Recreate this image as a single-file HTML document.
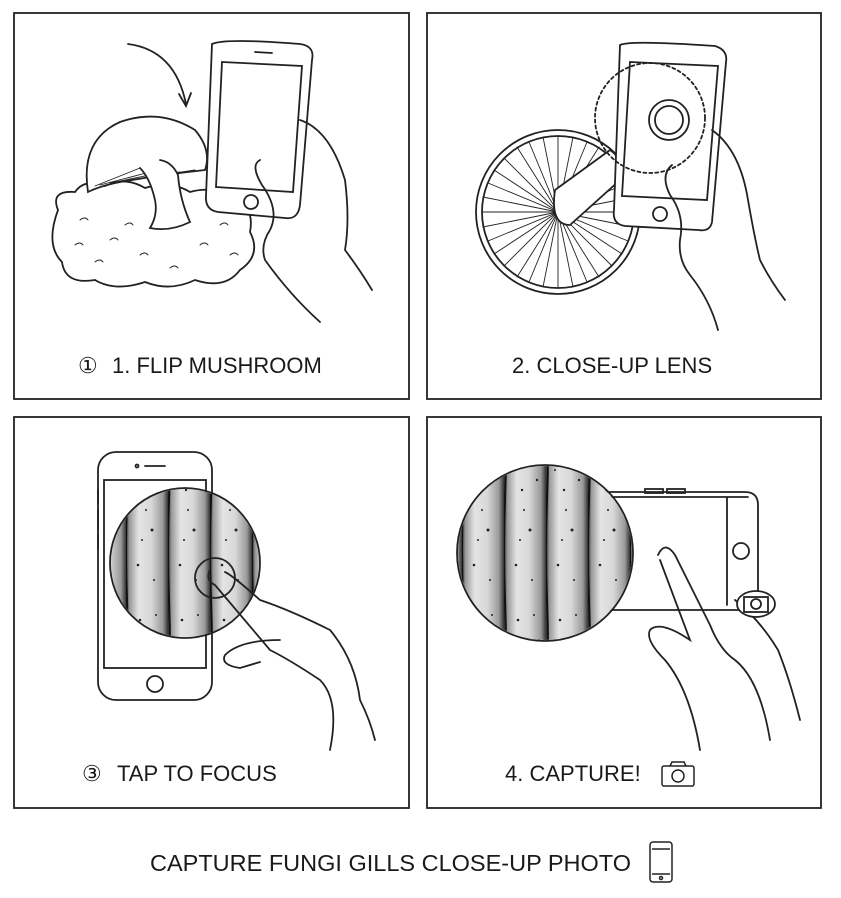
<!DOCTYPE html>
<html><head><meta charset="utf-8"><style>
html,body{margin:0;padding:0;background:#fff;}
svg{display:block}
text{font-family:"Liberation Sans",sans-serif;fill:#1a1a1a}
</style></head><body>
<svg width="841" height="898" viewBox="0 0 841 898" xmlns="http://www.w3.org/2000/svg">
<defs>
<linearGradient id="gill" x1="0" x2="1" y1="0" y2="0">
<stop offset="0" stop-color="#333"/><stop offset="0.08" stop-color="#999"/><stop offset="0.3" stop-color="#e4e4e4"/><stop offset="0.6" stop-color="#d8d8d8"/><stop offset="0.88" stop-color="#999"/><stop offset="1" stop-color="#333"/>
</linearGradient>
<pattern id="stripes" width="42" height="200" patternUnits="userSpaceOnUse">
<rect width="42" height="200" fill="url(#gill)"/>
<path d="M1 0 Q3 50 1 100 Q-1 150 1 200" stroke="#111" stroke-width="2" fill="none"/>
<g fill="#222"><circle cx="14" cy="20" r="1.3"/><circle cx="22" cy="55" r="1.5"/><circle cx="18" cy="90" r="1.2"/><circle cx="26" cy="130" r="1.5"/><circle cx="12" cy="165" r="1.3"/><circle cx="30" cy="15" r="1"/><circle cx="20" cy="110" r="1"/><circle cx="9" cy="70" r="1"/><circle cx="33" cy="80" r="1.2"/><circle cx="28" cy="180" r="1"/><circle cx="16" cy="140" r="1"/><circle cx="35" cy="40" r="1"/></g>
</pattern>
<clipPath id="c3"><circle cx="185" cy="563" r="74"/></clipPath>
<clipPath id="c4"><circle cx="545" cy="553" r="87"/></clipPath>
</defs>
<g fill="none" stroke="#222" stroke-width="1.8">
<rect x="14" y="13" width="395" height="386"/>
<rect x="427" y="13" width="394" height="386"/>
<rect x="14" y="417" width="395" height="391"/>
<rect x="427" y="417" width="394" height="391"/>
</g>

<!-- Panel 1 -->
<g fill="none" stroke="#222" stroke-width="1.8" stroke-linecap="round">
<path d="M128 44 Q175 50 186 104"/><path d="M179 94 L186 106 L191 93"/>
<path d="M58 210 Q50 190 75 192 Q85 178 105 186 Q125 176 145 188 Q170 180 190 192 Q215 185 232 200 Q255 205 250 232 Q262 255 240 270 Q225 290 195 280 Q170 292 145 282 Q115 292 95 280 Q65 285 62 262 Q45 245 58 210Z" fill="#fff"/>
<g stroke-width="1"><path d="M80 220q5-4 8 0M110 240q5-4 8 0M140 255q5-4 8 0M200 245q5-4 8 0M220 225q5-4 8 0M95 262q5-4 8 0M170 268q5-4 8 0M75 245q5-4 8 0M230 255q5-4 8 0M125 225q5-4 8 0"/></g>
<path d="M88 192 Q80 140 120 122 Q160 108 195 130 Q212 150 205 170 Q160 175 120 182 Q100 186 88 192Z" fill="#fff"/>
<g stroke-width="0.9"><path d="M95 186L140 168M100 185L150 172M110 183L165 172M120 182L180 172M130 180L195 170"/></g>
<path d="M140 168 Q150 178 155 200 Q158 215 150 228 Q170 232 190 222 Q180 200 178 175 Q172 162 160 160" fill="#fff"/>
<path d="M212 44 Q225 38 300 44 Q315 46 312 60 L300 205 Q298 220 285 218 L218 212 Q205 210 206 196 Z" fill="#fff"/>
<path d="M222 62 L302 66 L293 192 L216 187 Z"/>
<circle cx="251" cy="202" r="7"/><path d="M255 52 L272 53"/>
<path d="M260 160 Q250 165 262 185 Q280 210 270 230 Q260 245 265 260 Q290 295 320 322"/>
<path d="M300 120 Q330 130 345 180 Q350 220 345 250 Q360 270 372 290"/>
</g>
<text x="78" y="373" font-size="22">①</text><text x="112" y="373" font-size="22">1. FLIP MUSHROOM</text>

<!-- Panel 2 -->
<g fill="none" stroke="#222" stroke-width="1.8" stroke-linecap="round">
<circle cx="558" cy="212" r="82" fill="#fff"/>
<circle cx="558" cy="212" r="76"/>
<g stroke-width="0.9">
<path d="M558 136V288M482 212H634M504 158L612 266M504 266L612 158M529 142L587 282M529 282L587 142M488 183L628 241M488 241L628 183M543 137L573 287M543 287L573 137M483 197L633 227M483 227L633 197M517 147L599 277M517 277L599 147M494 170L622 254M494 254L622 170"/>
</g>
<path d="M555 190 L610 150 Q625 160 620 180 L570 225 Q550 225 555 190Z" fill="#fff"/>
<path d="M620 45 Q630 40 715 46 Q728 50 726 62 L712 222 Q710 232 698 230 L625 226 Q612 224 614 210Z" fill="#fff"/>
<path d="M630 62 L718 66 L707 200 L622 196Z"/>
<circle cx="660" cy="214" r="7"/>
<circle cx="650" cy="118" r="55" stroke-dasharray="3 3"/>
<circle cx="669" cy="120" r="20"/><circle cx="669" cy="120" r="14"/>
<path d="M672 165 Q660 175 670 195 Q685 215 680 240 Q678 260 690 275 Q710 300 718 330"/>
<path d="M712 130 Q740 150 748 200 Q755 240 760 260 Q770 280 785 300"/>
</g>
<text x="512" y="373" font-size="22">2. CLOSE-UP LENS</text>

<!-- Panel 3 -->
<g fill="none" stroke="#222" stroke-width="1.8" stroke-linecap="round">
<rect x="98" y="452" width="114" height="248" rx="18" fill="#fff"/>
<rect x="104" y="480" width="102" height="188"/>
<circle cx="155" cy="684" r="8"/><path d="M145 466H165"/><circle cx="137" cy="466" r="1.5"/>
<path d="M98 490v14M98 510v20M98 535v14"/>
<rect x="108" y="486" width="160" height="160" fill="url(#stripes)" clip-path="url(#c3)" stroke="none"/>
<circle cx="185" cy="563" r="75"/>
<circle cx="215" cy="578" r="20"/>
<path d="M210 570 Q205 580 215 585 L270 650 Q290 660 320 680 Q340 700 330 750"/>
<path d="M225 572 Q232 575 260 600 Q290 610 330 630 Q355 660 360 700 Q370 720 375 740"/>
<path d="M280 640 Q240 640 225 655 Q220 665 240 668 L260 662"/>
</g>
<text x="82" y="781" font-size="22">③</text><text x="117" y="781" font-size="22">TAP TO FOCUS</text>

<!-- Panel 4 -->
<g fill="none" stroke="#222" stroke-width="1.8" stroke-linecap="round">
<path d="M600 492 H745 Q758 492 758 505 V598 Q758 610 745 610 H600 Z" fill="#fff"/>
<path d="M727 497 V605 M600 497 H748"/>
<rect x="645" y="489" width="18" height="4"/><rect x="667" y="489" width="18" height="4"/>
<circle cx="741" cy="551" r="8"/>
<rect x="458" y="466" width="174" height="174" fill="url(#stripes)" clip-path="url(#c4)" stroke="none"/>
<circle cx="545" cy="553" r="88"/>
<path d="M658 555 Q665 540 675 555 L710 625 Q720 650 735 660 Q760 680 770 740"/>
<path d="M660 560 L690 640 Q660 620 650 630 Q645 640 665 660 Q690 690 700 750"/>
<path d="M735 600 Q760 620 778 650 Q790 680 800 720"/>
<ellipse cx="756" cy="604" rx="19" ry="13" fill="#fff"/>
<rect x="744" y="597" width="24" height="15"/><circle cx="756" cy="604" r="5"/>
</g>
<text x="505" y="781" font-size="22">4. CAPTURE!</text>
<g fill="none" stroke="#222" stroke-width="1.5">
<rect x="662" y="766" width="32" height="20" rx="2"/><circle cx="678" cy="776" r="6"/><path d="M670 766 L672 762 H684 L686 766"/>
</g>

<text x="150" y="871" font-size="23.5">CAPTURE FUNGI GILLS CLOSE-UP PHOTO</text>
<g fill="none" stroke="#222" stroke-width="1.5">
<rect x="650" y="842" width="22" height="40" rx="3"/><path d="M652 849H670M652 874H670"/><circle cx="661" cy="878" r="1.5"/>
</g>
</svg>
</body></html>
